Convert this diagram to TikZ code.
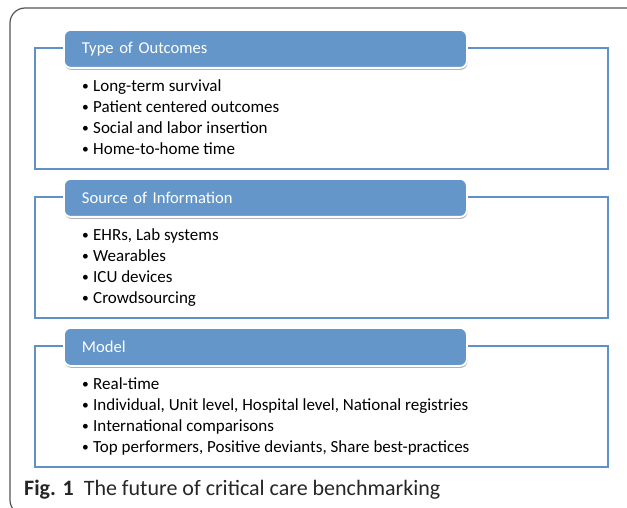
\documentclass[tikz,border=0pt]{standalone}
\usepackage{fontspec}
\setmainfont{Carlito}
\usetikzlibrary{positioning,shadows}
\definecolor{hdrblue}{RGB}{100,150,201}
\definecolor{lineblue}{RGB}{96,144,197}
\definecolor{framegray}{RGB}{85,85,85}
\tikzset{
  frame/.style={draw=framegray, line width=1.2pt, rounded corners=15pt},
  panel/.style={draw=lineblue, line width=2.2pt},
  header/.style={draw=white, line width=1.8pt, fill=hdrblue, rounded corners=7pt,
    minimum width=403pt, minimum height=38pt, text width=367pt, align=left,
    inner xsep=18pt, anchor=north west, text=white,
    font=\fontsize{16.6}{19}\selectfont,
    drop shadow={shadow xshift=0.6pt, shadow yshift=-2pt, opacity=0.3, fill=black}},
  item/.style={anchor=base west, inner sep=0pt, font=\fontsize{17}{20}\selectfont},
  caption/.style={anchor=base west, inner sep=0pt, text=black!85, font=\fontsize{22}{25}\selectfont},
}
\newcommand{\bul}{\makebox[11pt][l]{\raisebox{1.2pt}{\fontsize{13.5}{13.5}\selectfont\textbullet}}}
\begin{document}
\begin{tikzpicture}[x=1pt,y=-1pt]
  \useasboundingbox (0,0) rectangle (627,508);
  % outer frame, cut by the page
  \begin{scope}
    \clip (0,0) rectangle (627,508);
    \draw[frame] (10,8) rectangle (720,515);
  \end{scope}

  % the three panels
  \foreach \k/\title in {0/Type of Outcomes, 1/Source of Information, 2/Model} {
    \draw[panel] (35,{48+149*\k}) rectangle (608,{169+149*\k});
    \node[header] (hdr\k) at (63,{29+149*\k}) {\title};
  }

  % items
  \foreach \t [count=\i from 0] in {Long-term survival, Patient centered outcomes,
      Social and labor insertion, Home-to-home time}
    \node[item] (out\i) at (82,{91.5+21*\i}) {\bul\t};
  \foreach \t [count=\i from 0] in {{EHRs, Lab systems}, Wearables, ICU devices, Crowdsourcing}
    \node[item] (src\i) at (82,{240.5+21*\i}) {\bul\t};
  \foreach \t [count=\i from 0] in {Real-time, {Individual, Unit level, Hospital level, National registries},
      International comparisons, {Top performers, Positive deviants, Share best-practices}}
    \node[item] (mod\i) at (82,{389.5+21*\i}) {\bul\t};

  \node[caption] (cap) at (24,495) {\textbf{Fig. 1}\hspace{10pt}The future of critical care benchmarking};
\end{tikzpicture}
\end{document}
